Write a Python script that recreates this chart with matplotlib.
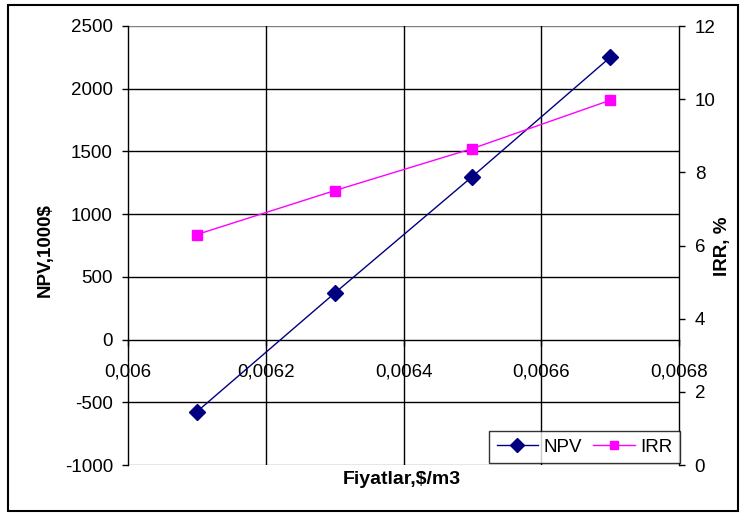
import matplotlib.pyplot as plt
from matplotlib.patches import Rectangle
from matplotlib.ticker import FuncFormatter

plt.rcParams['font.family'] = ['Liberation Sans', 'DejaVu Sans']
plt.rcParams['axes.unicode_minus'] = False

# Price per m3 and the two economic indicators
prices = [0.0061, 0.0063, 0.0065, 0.0067]
npv = [-575, 370, 1300, 2250]        # 1000$
irr = [6.3, 7.5, 8.65, 9.97]         # %

x_ticks = [0.006, 0.0062, 0.0064, 0.0066, 0.0068]
npv_ticks = [-1000, -500, 0, 500, 1000, 1500, 2000, 2500]
irr_ticks = [0, 2, 4, 6, 8, 10, 12]

FS = 13.5
W, H = 745, 513

fig = plt.figure(figsize=(W / 100, H / 100), dpi=100)
ax = fig.add_axes([128 / W, 1 - 465 / H, (679 - 128) / W, (465 - 26) / H])

# outer frame of the chart
fig.patches.append(Rectangle((8 / W, 1 - 511 / H), 730 / W, 506 / H,
                             transform=fig.transFigure, fill=False,
                             edgecolor='black', linewidth=1.5))

ax.set_xlim(0.006, 0.0068)
ax.set_ylim(-1000, 2500)
ax.set_xticks(x_ticks)
ax.set_yticks(npv_ticks)
ax.xaxis.set_major_formatter(FuncFormatter(lambda v, p: f"{v:g}".replace('.', ',')))

# gridlines; plot area edges in grey
for y in npv_ticks:
    if y in (-1000, 2500):
        ax.axhline(y, color='#808080', linewidth=1, zorder=1)
    elif y != 0:
        ax.axhline(y, color='black', linewidth=1, zorder=1)
for x in x_ticks[1:-1]:
    ax.axvline(x, color='black', linewidth=1, zorder=1)

ax.spines['bottom'].set_position(('data', 0))
ax.spines['top'].set_visible(False)
ax.spines['right'].set_visible(False)
ax.spines['left'].set_linewidth(1)
ax.spines['bottom'].set_linewidth(1)
ax.tick_params(axis='y', labelsize=FS, width=1, length=4.3, pad=6.5, direction='out')
ax.tick_params(axis='x', labelsize=FS, width=1, length=4, pad=13.5, direction='out')

ax.plot(prices, npv, color='#000080', marker='D', markersize=8.5, linewidth=1,
        label='NPV', zorder=3)

ax2 = ax.twinx()
ax2.set_ylim(0, 12)
ax2.set_yticks(irr_ticks)
for s in ('top', 'left', 'bottom'):
    ax2.spines[s].set_visible(False)
ax2.spines['right'].set_linewidth(1)
ax2.tick_params(axis='y', labelsize=FS, width=1, length=4.3, pad=7, direction='out')
ax2.plot(prices, irr, color='#FF00FF', marker='s', markersize=7, linewidth=1,
         label='IRR', zorder=3)

# axis titles
fig.text(45 / W, 1 - 250 / H, 'NPV,1000$', fontsize=FS, fontweight='bold',
         rotation=90, ha='center', va='center')
fig.text(723 / W, 1 - 246 / H, 'IRR, %', fontsize=FS, fontweight='bold',
         rotation=90, ha='center', va='center')
fig.text(402 / W, 1 - 479 / H, 'Fiyatlar,$/m3', fontsize=14,
         fontweight='bold', ha='center', va='center')

h1, l1 = ax.get_legend_handles_labels()
h2, l2 = ax2.get_legend_handles_labels()
leg = ax2.legend(h1 + h2, l1 + l2, loc='lower right', ncol=2, fontsize=FS,
                 frameon=True, fancybox=False, borderaxespad=0,
                 bbox_to_anchor=(1.002, 0.004), handlelength=2.2,
                 columnspacing=0.6, handletextpad=0.3, borderpad=0.4,
                 markerscale=0.8)
leg.get_frame().set_edgecolor('black')
leg.get_frame().set_linewidth(1)

fig.savefig('out.png', dpi=100)
